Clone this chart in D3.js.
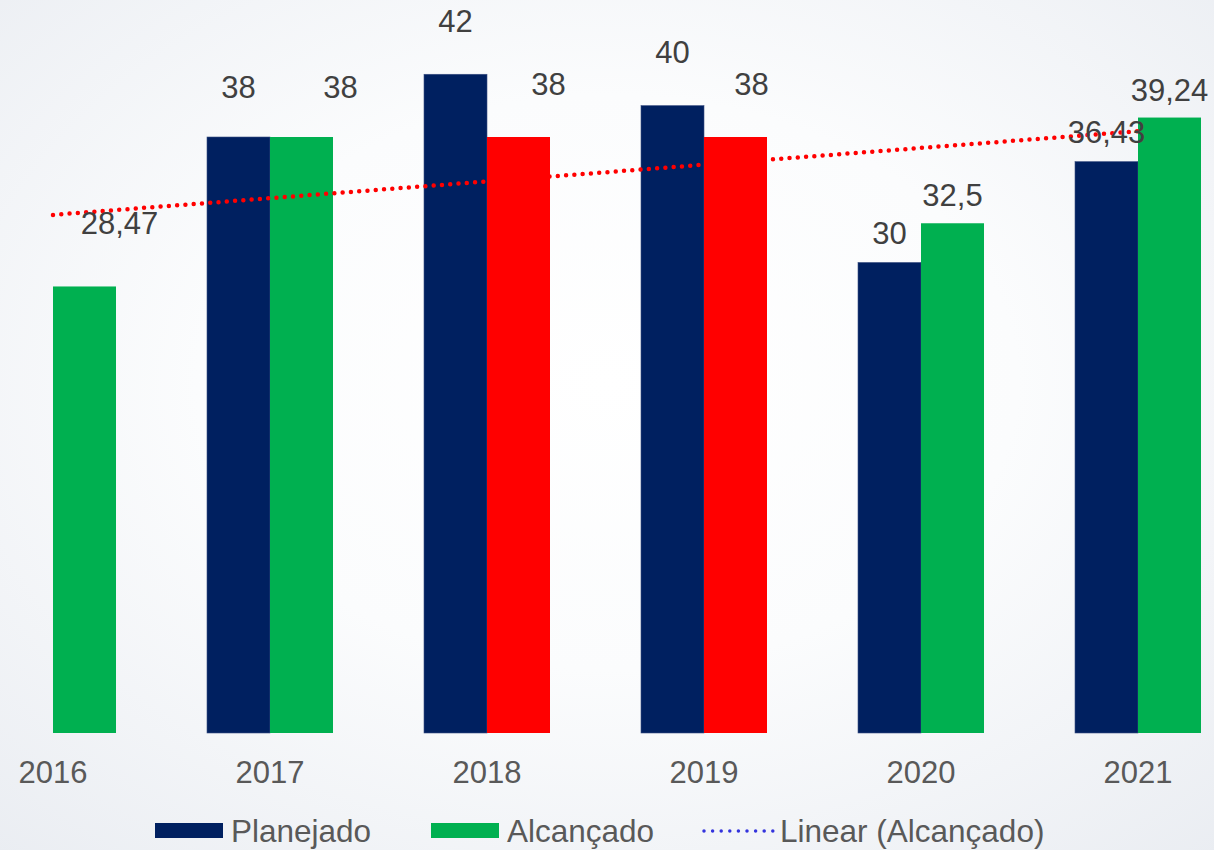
<!DOCTYPE html>
<html lang="pt">
<head>
  <meta charset="utf-8">
  <title>Planejado x Alcançado</title>
  <script src="https://cdn.jsdelivr.net/npm/d3@7"></script>
  <style>
    html, body { margin: 0; padding: 0; }
    body { width: 1214px; height: 850px; overflow: hidden; }
    text { font-family: "Liberation Sans", Arial, sans-serif; }
  </style>
</head>
<body>
  <script>

  // dados
  var anos = ["2016", "2017", "2018", "2019", "2020", "2021"];
  var planejado = [null, 38, 42, 40, 30, 36.43];
  var alcancado = [28.47, 38, 38, 38, 32.5, 39.24];

  // deslocamento manual dos rótulos [dx, dy] (como no Excel)
  var ajustePlan = [[0, 0], [0, -39], [0, -42], [0, -43], [0, -18], [0, -19]];
  var ajusteAlc = [[35, -52], [39, -39], [30, -42], [16, -42], [0, -17], [0, -17]];

  var width = 1214, height = 850;
  var base = 733;

  var svg = d3.select("body").append("svg")
    .attr("width", width)
    .attr("height", height);

  // fundo em degradê
  var defs = svg.append("defs");
  var grad = defs.append("radialGradient")
    .attr("id", "fundo")
    .attr("cx", "50%").attr("cy", "45%").attr("r", "75%");
  grad.append("stop").attr("offset", "0%").attr("stop-color", "#ffffff");
  grad.append("stop").attr("offset", "45%").attr("stop-color", "#fbfcfd");
  grad.append("stop").attr("offset", "100%").attr("stop-color", "#eaedf2");
  svg.append("rect")
    .attr("width", width).attr("height", height)
    .attr("fill", "url(#fundo)");

  var x = d3.scaleBand()
    .domain(anos)
    .range([53 - 108.5, 1138 + 108.5]);

  var y = d3.scaleLinear()
    .domain([0, 38])
    .range([base, 137]);

  var bw = 63;
  var centro = function(d) { return x(d) + x.bandwidth() / 2; };
  var fmt = function(v) { return String(v).replace(".", ","); };

  var dados = anos.map(function(a, i) {
    return { ano: a, plan: planejado[i], alc: alcancado[i], i: i };
  });

  // barras Planejado
  svg.append("g").selectAll("rect")
    .data(dados.filter(function(d) { return d.plan != null; }))
    .enter().append("rect")
    .attr("x", function(d) { return centro(d.ano) - bw; })
    .attr("y", function(d) { return y(d.plan); })
    .attr("width", bw)
    .attr("height", function(d) { return base - y(d.plan); })
    .attr("fill", "#002060")
    .attr("stroke", "#3a4f82")
    .attr("stroke-width", 0.6);

  // barras Alcançado (vermelho quando abaixo do planejado)
  svg.append("g").selectAll("rect")
    .data(dados)
    .enter().append("rect")
    .attr("x", function(d) { return centro(d.ano); })
    .attr("y", function(d) { return y(d.alc); })
    .attr("width", bw)
    .attr("height", function(d) { return base - y(d.alc); })
    .attr("fill", function(d) { return d.plan != null && d.alc < d.plan ? "#ff0000" : "#00b050"; });

  // linha de tendência linear (Alcançado)
  var n = alcancado.length;
  var mx = d3.mean(d3.range(1, n + 1));
  var my = d3.mean(alcancado);
  var sxy = d3.sum(alcancado, function(v, i) { return (i + 1 - mx) * (v - my); });
  var sxx = d3.sum(d3.range(1, n + 1), function(k) { return (k - mx) * (k - mx); });
  var inclin = sxy / sxx;
  var tend = function(k) { return my + inclin * (k - mx); };

  svg.append("line")
    .attr("x1", centro(anos[0]))
    .attr("y1", y(tend(1)))
    .attr("x2", centro(anos[n - 1]))
    .attr("y2", y(tend(n)))
    .attr("stroke", "#ff0000")
    .attr("stroke-width", 4.5)
    .attr("stroke-linecap", "round")
    .attr("stroke-dasharray", "0 8.3");

  // rótulos de dados
  var rot = svg.append("g")
    .attr("font-size", 31)
    .attr("fill", "#404040")
    .attr("text-anchor", "middle");

  rot.selectAll(".plan")
    .data(dados.filter(function(d) { return d.plan != null; }))
    .enter().append("text")
    .attr("x", function(d) { return centro(d.ano) - bw / 2 + ajustePlan[d.i][0]; })
    .attr("y", function(d) { return y(d.plan) + ajustePlan[d.i][1]; })
    .text(function(d) { return fmt(d.plan); });

  rot.selectAll(".alc")
    .data(dados)
    .enter().append("text")
    .attr("x", function(d) { return centro(d.ano) + bw / 2 + ajusteAlc[d.i][0]; })
    .attr("y", function(d) { return y(d.alc) + ajusteAlc[d.i][1]; })
    .text(function(d) { return fmt(d.alc); });

  // eixo X (apenas rótulos)
  var eixo = svg.append("g")
    .attr("transform", "translate(0," + base + ")")
    .call(d3.axisBottom(x).tickSize(0).tickPadding(0));
  eixo.select(".domain").remove();
  eixo.selectAll("text")
    .attr("y", 50)
    .attr("dy", 0)
    .attr("font-size", 31)
    .attr("font-family", "Liberation Sans, Arial, sans-serif")
    .attr("fill", "#595959");

  // legenda
  var leg = svg.append("g").attr("font-size", 31.5).attr("fill", "#595959");
  leg.append("rect").attr("x", 155).attr("y", 823).attr("width", 68).attr("height", 15).attr("fill", "#002060");
  leg.append("text").attr("x", 231).attr("y", 842).text("Planejado");
  leg.append("rect").attr("x", 431).attr("y", 823).attr("width", 68).attr("height", 15).attr("fill", "#00b050");
  leg.append("text").attr("x", 507).attr("y", 842).text("Alcançado");
  leg.append("line")
    .attr("x1", 704).attr("y1", 831).attr("x2", 773).attr("y2", 831)
    .attr("stroke", "#3333dd").attr("stroke-width", 3.5)
    .attr("stroke-linecap", "round").attr("stroke-dasharray", "0 8.6");
  leg.append("text").attr("x", 780).attr("y", 842).text("Linear (Alcançado)");

  </script>
</body>
</html>
